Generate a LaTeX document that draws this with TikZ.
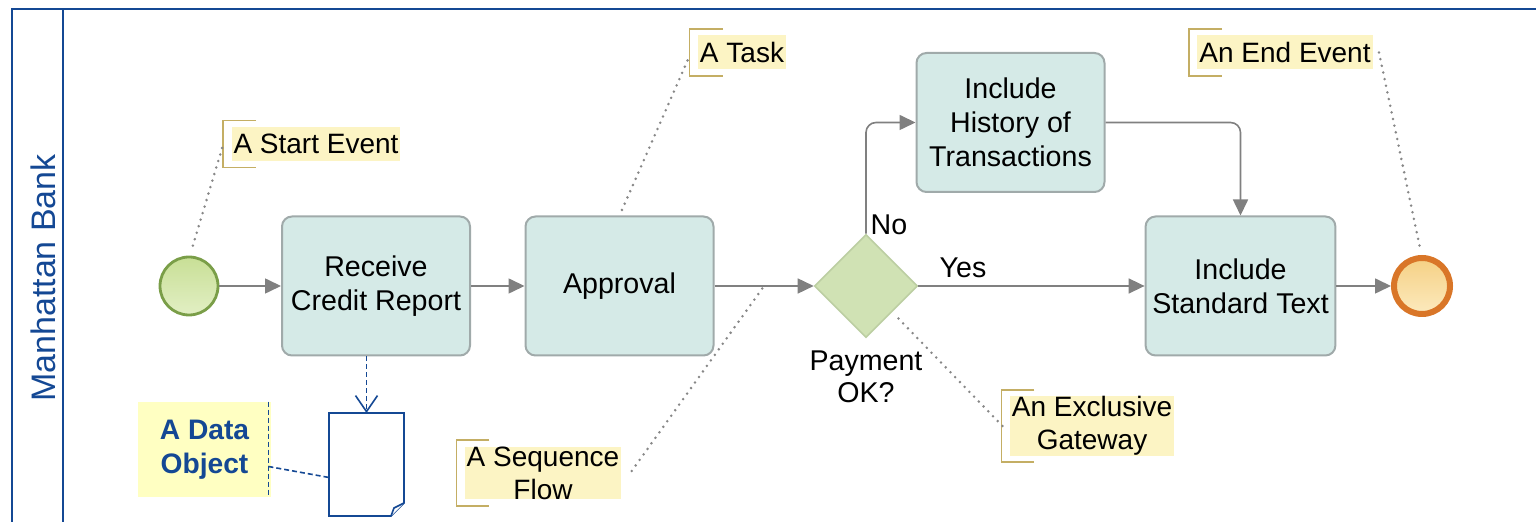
\documentclass[tikz,border=0pt]{standalone}
\usepackage{fontspec}
\setmainfont{Liberation Sans}
\usetikzlibrary{shapes.geometric,arrows.meta}
\definecolor{bpmnblue}{RGB}{20,72,148}
\definecolor{taskfill}{RGB}{213,234,231}
\definecolor{taskline}{RGB}{160,170,170}
\definecolor{flowgrey}{RGB}{128,128,128}
\definecolor{gwfill}{RGB}{208,226,180}
\definecolor{gwline}{RGB}{188,206,162}
\definecolor{startline}{RGB}{122,158,72}
\definecolor{endline}{RGB}{217,118,40}
\definecolor{notefill}{RGB}{252,244,196}
\definecolor{noteline}{RGB}{196,174,100}
\definecolor{dotgrey}{RGB}{135,135,135}
\definecolor{datafill}{RGB}{255,255,194}

\begin{document}
\begin{tikzpicture}[x=0.5pt,y=-0.5pt,
    pool/.style={draw=bpmnblue,line width=1.1pt},
    task/.style={draw=taskline,line width=1pt,fill=taskfill,rounded corners=5pt,minimum width=94pt,minimum height=69.5pt,align=center,font=\fontsize{14.3}{17}\selectfont},
    startev/.style={circle,draw=startline,line width=1.4pt,top color={rgb,255:red,200;green,223;blue,150},bottom color={rgb,255:red,226;green,239;blue,196},minimum size=29pt,inner sep=0pt},
    endev/.style={circle,draw=endline,line width=3pt,top color={rgb,255:red,245;green,208;blue,132},bottom color={rgb,255:red,252;green,234;blue,190},minimum size=28pt,inner sep=0pt},
    gateway/.style={diamond,draw=gwline,line width=0.8pt,fill=gwfill,minimum width=51.5pt,minimum height=51.5pt,inner sep=0pt},
    flow/.style={draw=flowgrey,line width=0.8pt,-{Triangle[length=8pt,width=7.5pt]}},
    lbl/.style={align=center,font=\fontsize{14.3}{16}\selectfont},
    note/.style={fill=notefill,inner xsep=1pt,inner ysep=0pt,minimum height=17pt,align=center,font=\fontsize{14}{16.5}\selectfont},
    bracket/.style={draw=noteline,line width=0.7pt},
    assoc/.style={draw=dotgrey,line width=1.4pt,dash pattern=on 0pt off 3.4pt,line cap=round},
    datanote/.style={fill=datafill,minimum width=66.5pt,minimum height=47.5pt,inner sep=0pt,align=center,text=bpmnblue,font=\bfseries\fontsize{14.1}{17}\selectfont},
    dataobj/.style={minimum width=37.5pt,minimum height=51.5pt,inner sep=0pt,outer sep=0pt},
    dataline/.style={draw=bpmnblue,line width=0.8pt,fill=white},
    datadash/.style={draw=bpmnblue,line width=0.8pt,dash pattern=on 2.5pt off 1.5pt}]
    \useasboundingbox (0,0) rectangle (1536,522);
    \draw[pool] (1536,9) -- (12,9) -- (12,522) (63,9) -- (63,522);
    \node[rotate=90,text=bpmnblue,font=\fontsize{17}{20}\selectfont] (bank) at (43,278) {Manhattan Bank};
    \node[startev] (st) at (189,286) {};
    \node[task] (t1) at (376,286) {Receive\\Credit Report};
    \node[task] (t2) at (619.5,286) {Approval};
    \node[gateway] (gw) at (866,286) {};
    \node[task] (t3) at (1010.5,122.5) {Include\\History of\\Transactions};
    \node[task] (t4) at (1240.5,286) {Include\\Standard Text};
    \node[endev] (en) at (1422,286) {};
    \draw[flow] (st) -- (t1);
    \draw[flow] (t1) -- (t2);
    \draw[flow] (t2) -- coordinate[pos=0.5] (sf) (gw);
    \draw[flow] (gw) -- (t4);
    \draw[flow,rounded corners=5pt] (gw.north) |- (t3.west);
    \draw[flow,rounded corners=5pt] (t3.east) -| (t4.north);
    \draw[flow] (t4) -- (en);
    \node[lbl] (no) at (889,225) {No};
    \node[lbl] (yes) at (963,268) {Yes};
    \node[lbl] (pay) at (866,377) {Payment\\OK?};
    \node[note] (a1) at (316,144) {A Start Event};
    \node[note] (a2) at (742,52.5) {A Task};
    \node[note] (a3) at (543,473) {A Sequence\\Flow};
    \node[note] (a4) at (1092,426) {An Exclusive\\Gateway};
    \node[note] (a5) at (1285,52.5) {An End Event};
    \foreach \n in {a1,a2,a3,a4,a5}
        \draw[bracket] ([shift={(25,-6)}]\n.north west) -| ([shift={(-8,6)}]\n.south west) -- ++(33,0);
    \draw[assoc] ([shift={(-9,4)}]a1.west) -- ([shift={(3,-7)}]st.north);
    \draw[assoc] ([shift={(-10,8)}]a2.west) -- (t2.north);
    \draw[assoc] ([shift={(10,-2)}]a3.east) -- (sf);
    \draw[assoc] ([shift={(-7,0)}]a4.west) -- ([shift={(4,4)}]gw.south east);
    \draw[assoc] ([shift={(6,0)}]a5.east) -- ([shift={(-2,-7)}]en.north);
    \node[datanote] (dn) at (204.5,449.5) {A Data\\Object};
    \node[dataobj] (dob) at (366.5,464.5) {};
    \draw[dataline] (dob.north west) -- (dob.north east) -- ([shift={(0,-13)}]dob.south east) -- ([shift={(-13,0)}]dob.south east) -- (dob.south west) -- cycle;
    \draw[dataline] ([shift={(0,-13)}]dob.south east) -- ([shift={(-10,-8)}]dob.south east) -- ([shift={(-13,0)}]dob.south east);
    \draw[datadash,-{Straight Barb[length=8pt,width=11pt]}] (t1.south -| dob.north) -- (dob.north);
    \draw[datadash] ([shift={(-3,0)}]dn.north east) -- ([shift={(-3,0)}]dn.south east);
    \draw[datadash] ([shift={(-3,17)}]dn.east) -- ([shift={(0,13)}]dob.west);
\end{tikzpicture}
\end{document}
